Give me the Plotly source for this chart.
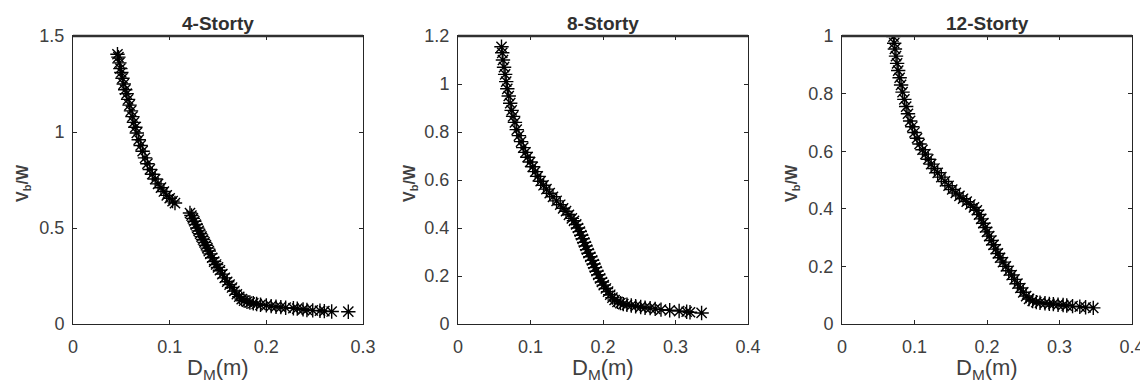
import plotly.graph_objects as go

# ---------------- data ----------------
titles = ["4-Storty", "8-Storty", "12-Storty"]

dm_4 = [0.0460, 0.0470, 0.0480, 0.0490, 0.0500, 0.0512, 0.0525, 0.0540, 0.0555, 0.0570,
        0.0585, 0.0600, 0.0615, 0.0630, 0.0645, 0.0660, 0.0680, 0.0700, 0.0720, 0.0745,
        0.0770, 0.0795, 0.0820, 0.0850, 0.0880, 0.0910, 0.0940, 0.0970, 0.1000, 0.1030,
        0.1055,
        0.1210, 0.1225, 0.1240, 0.1255, 0.1270, 0.1285, 0.1300, 0.1315, 0.1330, 0.1345,
        0.1360, 0.1375, 0.1390, 0.1405, 0.1420, 0.1440, 0.1460, 0.1480, 0.1500, 0.1520,
        0.1545, 0.1570, 0.1595, 0.1620, 0.1645, 0.1670, 0.1695, 0.1720, 0.1745, 0.1770,
        0.1800, 0.1830, 0.1865, 0.1900, 0.1940, 0.2000, 0.2050, 0.2100, 0.2150, 0.2200,
        0.2280, 0.2320, 0.2380, 0.2420, 0.2480, 0.2555, 0.2600, 0.2676, 0.2848]
vw_4 = [1.405, 1.390, 1.360, 1.330, 1.310, 1.280, 1.250, 1.220, 1.200, 1.170,
        1.140, 1.110, 1.080, 1.050, 1.025, 0.995, 0.960, 0.930, 0.900, 0.865,
        0.835, 0.805, 0.780, 0.755, 0.730, 0.710, 0.690, 0.670, 0.655, 0.640,
        0.630,
        0.578, 0.565, 0.550, 0.535, 0.518, 0.500, 0.485, 0.470, 0.455, 0.440,
        0.425, 0.410, 0.395, 0.380, 0.365, 0.345, 0.325, 0.310, 0.295, 0.280,
        0.260, 0.240, 0.220, 0.205, 0.190, 0.172, 0.155, 0.142, 0.130, 0.122,
        0.116, 0.112, 0.108, 0.104, 0.100, 0.097, 0.093, 0.090, 0.088, 0.085,
        0.082, 0.080, 0.076, 0.073, 0.071, 0.069, 0.067, 0.065, 0.064]

dm_8 = [0.0600, 0.0610, 0.0620, 0.0635, 0.0650, 0.0665, 0.0680, 0.0700, 0.0720, 0.0740,
        0.0760, 0.0785, 0.0810, 0.0840, 0.0870, 0.0900, 0.0930, 0.0960, 0.0995, 0.1030,
        0.1065, 0.1100, 0.1140, 0.1180, 0.1220, 0.1265, 0.1310, 0.1360, 0.1410, 0.1450,
        0.1490, 0.1530, 0.1570, 0.1600, 0.1630, 0.1655, 0.1680, 0.1700, 0.1720, 0.1740,
        0.1760, 0.1780, 0.1800, 0.1825, 0.1850, 0.1870, 0.1890, 0.1910, 0.1935, 0.1960,
        0.1985, 0.2010, 0.2040, 0.2070, 0.2100, 0.2130, 0.2160, 0.2200, 0.2240, 0.2280,
        0.2330, 0.2390, 0.2450, 0.2520, 0.2580, 0.2650, 0.2720, 0.2800, 0.2920, 0.3050,
        0.3154, 0.3200, 0.3360]
vw_8 = [1.155, 1.130, 1.100, 1.070, 1.040, 1.010, 0.980, 0.950, 0.920, 0.890,
        0.865, 0.840, 0.810, 0.785, 0.760, 0.735, 0.715, 0.695, 0.675, 0.655,
        0.635, 0.615, 0.595, 0.578, 0.562, 0.545, 0.530, 0.513, 0.497, 0.482,
        0.470, 0.455, 0.440, 0.430, 0.415, 0.400, 0.385, 0.370, 0.355, 0.340,
        0.325, 0.310, 0.295, 0.280, 0.265, 0.250, 0.235, 0.220, 0.205, 0.190,
        0.175, 0.162, 0.148, 0.135, 0.122, 0.110, 0.100, 0.092, 0.087, 0.083,
        0.080, 0.077, 0.074, 0.071, 0.068, 0.066, 0.063, 0.060, 0.057, 0.054,
        0.051, 0.049, 0.046]

dm_12 = [0.0710, 0.0720, 0.0730, 0.0745, 0.0760, 0.0775, 0.0795, 0.0815, 0.0835, 0.0860,
         0.0885, 0.0910, 0.0940, 0.0970, 0.1000, 0.1035, 0.1070, 0.1110, 0.1150, 0.1190,
         0.1230, 0.1275, 0.1320, 0.1370, 0.1420, 0.1470, 0.1520, 0.1570, 0.1620, 0.1670,
         0.1720, 0.1770, 0.1820, 0.1860, 0.1890, 0.1920, 0.1950, 0.1975, 0.2000, 0.2030,
         0.2060, 0.2090, 0.2120, 0.2150, 0.2180, 0.2220, 0.2260, 0.2300, 0.2340, 0.2380,
         0.2420, 0.2460, 0.2500, 0.2540, 0.2580, 0.2630, 0.2680, 0.2731, 0.2800, 0.2860,
         0.2915, 0.2980, 0.3050, 0.3100, 0.3180, 0.3280, 0.3360, 0.3466]
vw_12 = [0.998, 0.975, 0.955, 0.930, 0.905, 0.880, 0.855, 0.830, 0.805, 0.780,
         0.755, 0.730, 0.705, 0.685, 0.665, 0.645, 0.625, 0.605, 0.590, 0.572,
         0.555, 0.540, 0.525, 0.510, 0.495, 0.480, 0.467, 0.455, 0.445, 0.435,
         0.425, 0.415, 0.405, 0.395, 0.380, 0.365, 0.350, 0.335, 0.320, 0.305,
         0.290, 0.275, 0.260, 0.245, 0.230, 0.215, 0.200, 0.185, 0.170, 0.155,
         0.140, 0.125, 0.110, 0.097, 0.087, 0.080, 0.076, 0.074, 0.072, 0.070,
         0.069, 0.067, 0.066, 0.064, 0.062, 0.060, 0.058, 0.056]

x_ranges = [[0, 0.3], [0, 0.4], [0, 0.4]]
x_ticks = [[0, 0.1, 0.2, 0.3], [0, 0.1, 0.2, 0.3, 0.4], [0, 0.1, 0.2, 0.3, 0.4]]
y_ranges = [[0, 1.5], [0, 1.2], [0, 1.0]]
y_ticks = [[0, 0.5, 1, 1.5], [0, 0.2, 0.4, 0.6, 0.8, 1, 1.2], [0, 0.2, 0.4, 0.6, 0.8, 1]]

series = [(dm_4, vw_4), (dm_8, vw_8), (dm_12, vw_12)]

# ---------------- layout geometry ----------------
# the page body adds an 8 px offset, so the figure is 8 px smaller and
# all screen positions below are given relative to that offset
OFF = 8
W, H = 1148 - OFF, 388 - OFF
plot_left_px = [73 - OFF, 458 - OFF, 842 - OFF]
plot_w_px = 290
plot_top_px, plot_bot_px = 36 - OFF, 324 - OFF
ylabel_x_px = [23 - OFF, 410 - OFF, 792 - OFF]
title_y_px = 23 - OFF
xlabel_y_px = 369 - OFF
ylabel_y_px = 183 - OFF
FONT = "Liberation Sans, Arial, Helvetica, sans-serif"
AX = "#262626"

fig = go.Figure()
layout = dict(
    template="none",
    width=W, height=H,
    margin=dict(l=0, r=0, t=0, b=0, pad=0, autoexpand=False),
    paper_bgcolor="white", plot_bgcolor="white",
    showlegend=False,
    font=dict(family=FONT, color=AX),
)
annotations = []
shapes = []

for i, (xs, ys) in enumerate(series):
    n = "" if i == 0 else str(i + 1)
    fig.add_trace(go.Scatter(
        x=xs, y=ys, mode="markers",
        xaxis="x" + n, yaxis="y" + n,
        marker=dict(symbol="asterisk-open", size=12, color="black",
                    line=dict(color="black", width=1.4)),
        hoverinfo="x+y",
    ))
    x0 = plot_left_px[i] / W
    x1 = (plot_left_px[i] + plot_w_px) / W
    y0 = (H - plot_bot_px) / H
    y1 = (H - plot_top_px) / H
    common = dict(showline=True, linecolor=AX, linewidth=1, mirror="ticks",
                  ticks="inside", ticklen=4, tickcolor=AX, tickwidth=1,
                  showgrid=False, zeroline=False, automargin=False,
                  tickfont=dict(family=FONT, size=18, color="#404040"))
    layout["xaxis" + n] = dict(domain=[x0, x1], range=x_ranges[i], tickvals=x_ticks[i],
                               anchor="y" + n, ticklabelstandoff=6, **common)
    layout["yaxis" + n] = dict(domain=[y0, y1], range=y_ranges[i], tickvals=y_ticks[i],
                               anchor="x" + n, ticklabelstandoff=4, **common)
    # subplot title
    annotations.append(dict(text="<b>" + titles[i] + "</b>", xref="paper", yref="paper",
                            x=(x0 + x1) / 2, y=(H - title_y_px) / H, xanchor="center", yanchor="middle",
                            showarrow=False, font=dict(family=FONT, size=19, color="#303030")))
    # x-axis label
    annotations.append(dict(text="D<sub>M</sub>(m)", xref="paper", yref="paper",
                            x=(x0 + x1) / 2, y=(H - xlabel_y_px) / H, xanchor="center", yanchor="middle",
                            showarrow=False, font=dict(family=FONT, size=22, color="#404040")))
    # y-axis label
    annotations.append(dict(text="<b>V<sub>b</sub>/W</b>", xref="paper", yref="paper",
                            x=ylabel_x_px[i] / W, y=(H - ylabel_y_px) / H, xanchor="center", yanchor="middle",
                            textangle=-90, showarrow=False,
                            font=dict(family=FONT, size=16, color="#404040")))
    # darker top frame edge
    shapes.append(dict(type="line", xref="x" + n + " domain", yref="y" + n + " domain",
                       x0=0, x1=1, y0=1, y1=1, line=dict(color="#303030", width=2.5)))

layout["annotations"] = annotations
layout["shapes"] = shapes
fig.update_layout(**layout)
fig.write_html("out.html",
               post_script="document.documentElement.style.overflow='hidden';"
                           "document.body.style.overflow='hidden';")
